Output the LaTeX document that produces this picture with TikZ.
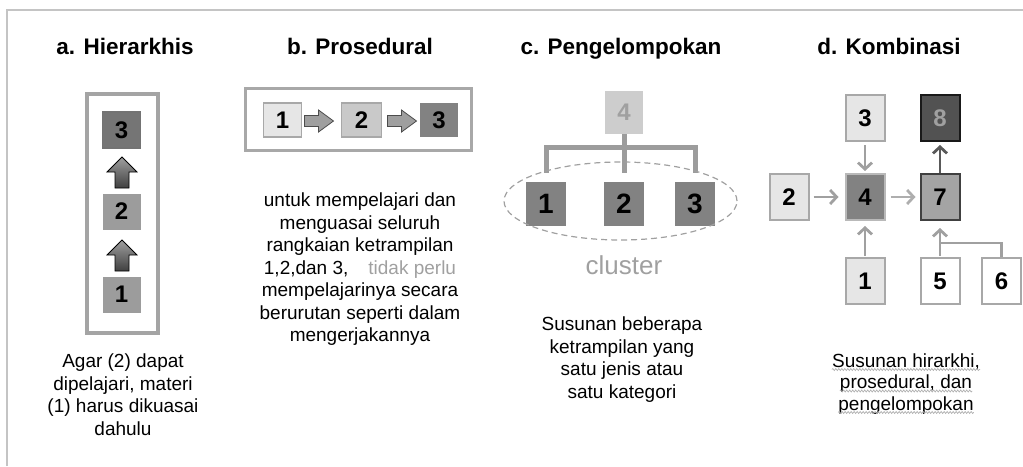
\documentclass[tikz,border=0pt]{standalone}
\usepackage{fontspec}
\setmainfont{Liberation Sans}
\usetikzlibrary{arrows.meta,decorations.pathmorphing}

\definecolor{framegray}{HTML}{C4C4C4}
\definecolor{panelgray}{HTML}{A4A4A4}
\definecolor{boxlight}{HTML}{E6E6E6}
\definecolor{boxpale}{HTML}{D6D6D6}
\definecolor{boxmid}{HTML}{9C9C9C}
\definecolor{boxdark}{HTML}{828282}
\definecolor{edgegray}{HTML}{A8A8A8}
\definecolor{arrowgray}{HTML}{A0A0A0}
\definecolor{softtext}{HTML}{A0A0A0}

\begin{document}
\begin{tikzpicture}[x=1pt,y=-1pt,
    paneltitle/.style={font=\fontsize{22.5}{26}\selectfont\bfseries, anchor=base},
    notetext/.style={font=\fontsize{19}{22.5}\selectfont, align=center, anchor=north, inner sep=0pt},
    numbox/.style={minimum width=38pt, minimum height=36pt, inner sep=0pt, font=\fontsize{24}{24}\selectfont\bfseries},
    dbox/.style={numbox, minimum width=39pt, minimum height=46pt, draw=edgegray, line width=2pt, fill=boxlight},
    blockup/.style={draw=black, line width=0.8pt, top color=gray!75, bottom color=black!75},
    blockright/.style={draw=black!70, line width=0.8pt, fill=gray!75},
    bracket/.style={draw=boxmid, line width=5pt},
    grayarrow/.style={draw=arrowgray, line width=2.8pt, -{Straight Barb[length=6.5pt,width=14pt]}},
    grayline/.style={draw=arrowgray, line width=2.8pt},
    squiggle/.style={draw=gray!60, line width=0.7pt, decorate, decoration={snake, amplitude=1pt, segment length=3pt}}
]

    % Fix the page size
    \useasboundingbox (0,0) rectangle (1023,466);

    % Draw the outer frame
    \draw[framegray, line width=2pt] (7,466) -- (7,10) -- (1023,10);

    % a. Hierarkhis
    \node[paneltitle] (ta) at (125,54) {a. Hierarkhis};
    \draw[panelgray, line width=4pt, fill=white] (87,94) rectangle (158,333);
    \node[numbox, fill=boxdark!110, draw=black!55, line width=1.5pt] (a3) at (121.5,130) {3};
    \node[numbox, fill=boxmid] (a2) at (121.5,211.5) {2};
    \node[numbox, fill=boxmid] (a1) at (121.5,294.5) {1};
    % Block arrows between the boxes
    \foreach \y in {172,255}
        \draw[blockup, shift={(122,\y)}] (0,-15) -- (15,0) -- (7,0) -- (7,16) -- (-7,16) -- (-7,0) -- (-15,0) -- cycle;
    \node[notetext] (na) at (123,354) {Agar (2) dapat\\dipelajari, materi\\(1) harus dikuasai\\dahulu};

    % b. Prosedural
    \node[paneltitle] (tb) at (360,54) {b. Prosedural};
    \draw[edgegray, line width=3pt] (245.5,88.5) rectangle (471.5,150.5);
    \node[numbox, minimum height=34pt, fill=boxlight, draw=edgegray, line width=1.5pt] (b1) at (282.5,120) {1};
    \node[numbox, minimum width=40pt, minimum height=34pt, fill=boxpale!85!gray, draw=edgegray, line width=1.5pt] (b2) at (361.5,120) {2};
    \node[numbox, minimum height=34pt, fill=boxdark] (b3) at (439,120) {3};
    % Block arrows between the boxes
    \foreach \x in {318.5,401.5}
        \draw[blockright, shift={(\x,121)}] (15,0) -- (0,-11) -- (0,-5.5) -- (-14,-5.5) -- (-14,5.5) -- (0,5.5) -- (0,11) -- cycle;
    \node[notetext] (nb) at (360,193) {untuk mempelajari dan\\menguasai seluruh\\rangkaian ketrampilan\\1,2,dan 3,\hspace{20pt}\textcolor{softtext}{tidak perlu}\\mempelajarinya secara\\berurutan seperti dalam\\mengerjakannya};

    % c. Pengelompokan
    \node[paneltitle] (tc) at (621,54) {c. Pengelompokan};
    \node[numbox, minimum height=43pt, fill=boxpale!90!gray, text=softtext] (c4) at (624,112.5) {4};
    \node[numbox, minimum width=40pt, minimum height=44pt, fill=boxdark, font=\fontsize{28}{28}\selectfont\bfseries] (c1) at (546,204) {1};
    \node[numbox, minimum width=40pt, minimum height=44pt, fill=boxdark, font=\fontsize{28}{28}\selectfont\bfseries] (c2) at (624,204) {2};
    \node[numbox, minimum width=40pt, minimum height=44pt, fill=boxdark, font=\fontsize{28}{28}\selectfont\bfseries] (c3) at (695,204) {3};
    % Bracket from 4 to the cluster
    \coordinate (cm) at (624,147);
    \draw[bracket, shorten <=9pt, shorten >=9pt] (c1.north) |- (cm) -| (c3.north);
    \draw[bracket, shorten >=9pt] (c4.south) -- (c2.north);
    % Cluster ellipse
    \draw[arrowgray, dash pattern=on 6pt off 4pt, line width=1.2pt] (620.5,201) ellipse (116.5pt and 39pt);
    \node[font=\fontsize{26}{26}\selectfont, text=softtext, anchor=base] (cl) at (624,274) {cluster};
    \node[notetext] (nc) at (622,317) {Susunan beberapa\\ketrampilan yang\\satu jenis atau\\satu kategori};

    % d. Kombinasi
    \node[paneltitle] (td) at (889,54) {d. Kombinasi};
    \node[dbox] (d3) at (865,118) {3};
    \node[dbox, fill=black!68, draw=black!90, text=softtext] (d8) at (940,118) {8};
    \node[dbox] (d2) at (789,197) {2};
    \node[dbox, fill=boxdark, draw=edgegray!80] (d4) at (865,197) {4};
    \node[dbox, fill=panelgray, draw=black!75] (d7) at (940,197) {7};
    \node[dbox] (d1) at (865,281) {1};
    \node[dbox, fill=white] (d5) at (940,281) {5};
    \node[dbox, fill=white] (d6) at (1001.5,281) {6};
    % Arrows between the boxes
    \draw[grayarrow, shorten <=3pt, shorten >=2pt] (d3) -- (d4);
    \draw[grayarrow, shorten <=4pt, shorten >=6pt] (d2) -- (d4);
    \draw[grayarrow, shorten <=1pt, shorten >=5pt] (d1) -- (d4);
    \draw[grayarrow, draw=arrowgray!85, shorten <=5pt, shorten >=4pt] (d4) -- (d7);
    \draw[grayarrow, draw=black!65, shorten <=0pt, shorten >=3pt] (d7) -- (d8);
    \draw[grayarrow, shorten <=1pt, shorten >=7pt] (d5) -- (d7);
    \coordinate (j56) at (940,243);
    \draw[grayline] (d6.north) |- (j56);
    % Caption, one line per node
    \foreach \t/\y [count=\i] in {{Susunan hirarkhi,}/367,{prosedural, dan}/388.5,pengelompokan/410} {
        \node[font=\fontsize{19}{22.5}\selectfont, anchor=base, inner sep=0pt] (nd\i) at (906,\y) {\t};
        \draw[squiggle] ([yshift=-2.5pt]nd\i.base west) -- ([yshift=-2.5pt]nd\i.base east);
    }

\end{tikzpicture}
\end{document}
